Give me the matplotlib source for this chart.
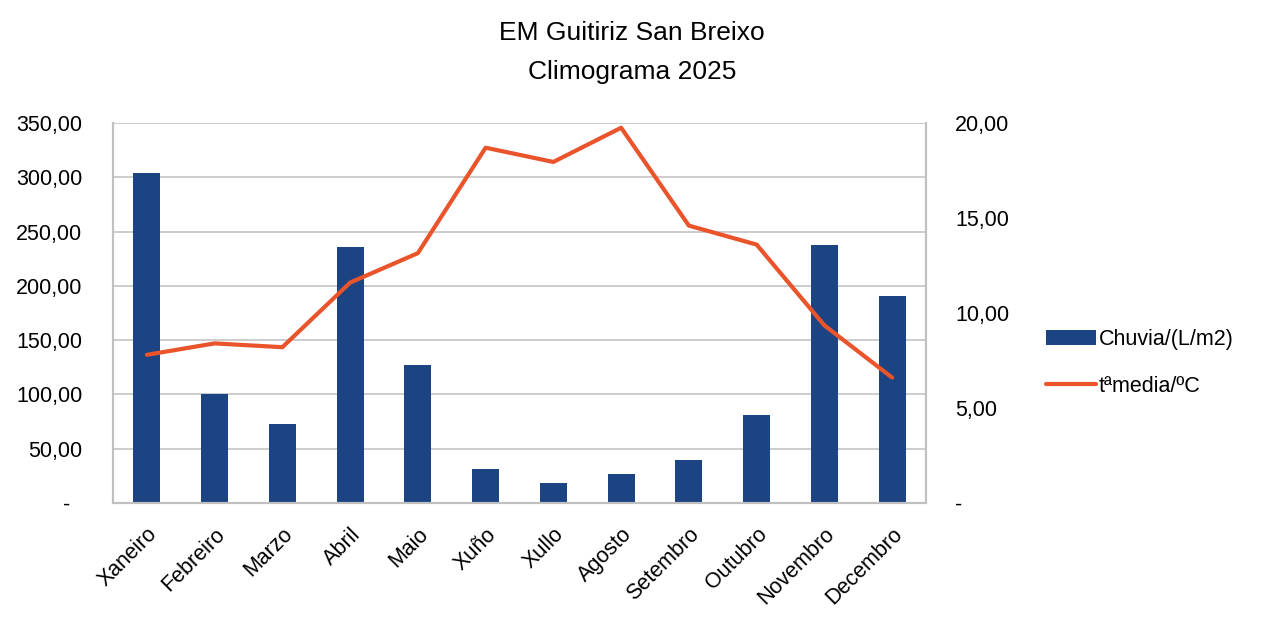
import numpy as np
import matplotlib
matplotlib.use("Agg")
import matplotlib.pyplot as plt
from matplotlib.ticker import FuncFormatter

plt.rcParams['font.family'] = ['Liberation Sans', 'DejaVu Sans']

meses = ["Xaneiro", "Febreiro", "Marzo", "Abril", "Maio", "Xuño", "Xullo",
         "Agosto", "Setembro", "Outubro", "Novembro", "Decembro"]
chuvia = [304.0, 100.5, 73.0, 236.0, 127.0, 31.5, 18.5, 27.0, 40.0, 81.0, 238.0, 190.5]
tmedia = [7.8, 8.4, 8.2, 11.6, 13.15, 18.7, 17.95, 19.75, 14.6, 13.6, 9.35, 6.6]

def fmt_esq(v, pos):
    if abs(v) < 1e-9:
        return "-  "
    return f"{v:,.2f}".replace(",", " ").replace(".", ",").replace(" ", ".")

def fmt_der(v, pos):
    if abs(v) < 1e-9:
        return "-"
    return f"{v:,.2f}".replace(",", " ").replace(".", ",").replace(" ", ".")

fig = plt.figure(figsize=(12.64, 6.32), dpi=100)
ax = fig.add_axes([113/1264, 1 - 503/632, (926-113)/1264, (503-123)/632])
ax2 = ax.twinx()

x = np.arange(len(meses))
ax.bar(x, chuvia, width=0.4, color="#1c4382", label="Chuvia/(L/m2)", zorder=2)
ax2.plot(x, tmedia, color="#e9542b", lw=3.0, solid_capstyle="round",
         label="tªmedia/ºC", zorder=3)

ax.set_xlim(-0.5, 11.5)
ax.set_ylim(0, 350)
ax2.set_ylim(0, 20)
ax.set_yticks(np.arange(0, 351, 50))
ax2.set_yticks(np.arange(0, 21, 5))
ax.yaxis.set_major_formatter(FuncFormatter(fmt_esq))
ax2.yaxis.set_major_formatter(FuncFormatter(fmt_der))

ax.grid(axis="y", color="#c8c8c8", lw=1.3, zorder=0)
ax.set_axisbelow(True)
for a in (ax, ax2):
    for s in a.spines.values():
        s.set_color("#c0c0c0")
        s.set_linewidth(1.5)
    a.spines["top"].set_visible(False)
    a.tick_params(length=0, labelsize=15.5)

ax.tick_params(axis="y", pad=22)
ax2.tick_params(axis="y", pad=21)
ax.set_xticks(x)
ax.set_xticklabels(meses, rotation=45, ha="right", rotation_mode="anchor", fontsize=15.5)
ax.tick_params(axis="x", pad=15)

fig.text(0.5, 1 - 33/632, "EM Guitiriz San Breixo", ha="center", va="center", fontsize=19)
fig.text(0.5, 1 - 72/632, "Climograma 2025", ha="center", va="center", fontsize=19)

h1, l1 = ax.get_legend_handles_labels()
h2, l2 = ax2.get_legend_handles_labels()
fig.legend(h1 + h2, l1 + l2, loc="center left", bbox_to_anchor=(1027/1264, 1 - 363/632),
           frameon=False, fontsize=15.5, handlelength=2.3, handletextpad=0.15,
           labelspacing=1.2)

fig.savefig("out.png", dpi=100)
